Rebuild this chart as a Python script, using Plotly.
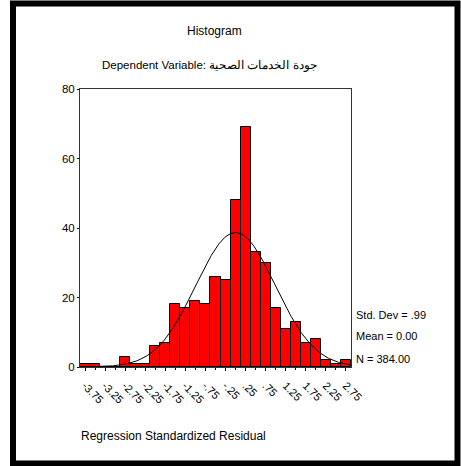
import numpy as np
import plotly.graph_objects as go

# ---- data ----
bin_centers = [-3.75, -3.5, -3.25, -3.0, -2.75, -2.5, -2.25, -2.0, -1.75, -1.5,
               -1.25, -1.0, -0.75, -0.5, -0.25, 0.0, 0.25, 0.5, 0.75, 1.0,
               1.25, 1.5, 1.75, 2.0, 2.25, 2.5, 2.75]
counts = [1, 1, 0, 0, 3, 1, 1, 6, 7, 18,
          17, 19, 18, 26, 25, 48, 69, 33, 30, 17,
          11, 13, 7, 8, 2, 1, 2]
tick_vals = [-3.75, -3.25, -2.75, -2.25, -1.75, -1.25, -0.75, -0.25,
             0.25, 0.75, 1.25, 1.75, 2.25, 2.75]
tick_text = ["-3.75", "-3.25", "-2.75", "-2.25", "-1.75", "-1.25", "-.75", "-.25",
             ".25", ".75", "1.25", "1.75", "2.25", "2.75"]
y_ticks = [0, 20, 40, 60, 80]
std_dev = 0.99
mean = 0.00
n_total = 384
bin_width = 0.25

FONT = "Liberation Sans Narrow, Arial Narrow, Liberation Sans, Arial, sans-serif"

# normal curve from the stated statistics
xc = np.linspace(-3.875, 2.875, 300)
yc = n_total * bin_width / (std_dev * np.sqrt(2 * np.pi)) * np.exp(-0.5 * ((xc - mean) / std_dev) ** 2)

fig = go.Figure()
fig.add_trace(go.Bar(
    x=bin_centers, y=counts, width=bin_width,
    marker=dict(color="#FF0000", line=dict(color="black", width=1)),
    showlegend=False, hoverinfo="x+y"))
fig.add_trace(go.Scatter(
    x=xc, y=yc, mode="lines", line=dict(color="black", width=1),
    showlegend=False, hoverinfo="skip"))

W, H = 461, 466
L, R, T, B = 80, 110, 89, 99
pw, ph = W - L - R, H - T - B

def px(x):
    return (x - L) / pw

def py(y):
    return (H - B - y) / ph

fig.update_layout(
    width=W, height=H,
    margin=dict(l=L, r=R, t=T, b=B),
    paper_bgcolor="white", plot_bgcolor="white",
    bargap=0,
    font=dict(family=FONT, size=12, color="black"),
    xaxis=dict(
        range=[-3.875, 2.875], tickmode="array", tickvals=tick_vals, ticktext=tick_text,
        tickangle=45, ticks="outside", ticklen=3, tickcolor="black",
        ticklabelstandoff=4,
        showline=True, linecolor="#333", linewidth=1, mirror=True,
        showgrid=False, zeroline=False, tickfont=dict(size=11, family=FONT),
        minor=dict(dtick=0.25, tick0=-3.75, ticks="outside", ticklen=2, tickcolor="black"),
    ),
    yaxis=dict(
        range=[0, 80], tickmode="array", tickvals=y_ticks,
        ticks="outside", ticklen=2, tickcolor="black",
        showline=True, linecolor="#333", linewidth=1, mirror=True,
        showgrid=False, zeroline=False, tickfont=dict(size=11.5, family=FONT),
    ),
    annotations=[
        dict(text="Histogram", x=px(214), y=py(31), xref="paper", yref="paper",
             showarrow=False, xanchor="center", yanchor="middle", font=dict(size=12)),
        dict(text="Dependent Variable: جودة الخدمات الصحية", x=px(209), y=py(65),
             xref="paper", yref="paper", showarrow=False, xanchor="center",
             yanchor="middle", font=dict(size=11.5)),
        dict(text="Std. Dev = .99", x=px(354), y=py(315), xref="paper", yref="paper",
             showarrow=False, xanchor="left", yanchor="middle", font=dict(size=11)),
        dict(text="Mean = 0.00", x=px(354), y=py(336), xref="paper", yref="paper",
             showarrow=False, xanchor="left", yanchor="middle", font=dict(size=11)),
        dict(text="N = 384.00", x=px(354), y=py(359), xref="paper", yref="paper",
             showarrow=False, xanchor="left", yanchor="middle", font=dict(size=11)),
        dict(text="Regression Standardized Residual", x=px(79), y=py(436),
             xref="paper", yref="paper", showarrow=False, xanchor="left",
             yanchor="middle", font=dict(size=12)),
    ],
    shapes=[
        dict(type="rect", xref="paper", yref="paper",
             x0=px(13), x1=px(457.5), y0=py(463.5), y1=py(3.5),
             line=dict(color="black", width=6), fillcolor="rgba(0,0,0,0)", layer="above"),
    ],
)

fig.write_html("out.html", config={"displayModeBar": False},
               post_script="document.body.style.margin='0';document.body.style.overflow='hidden';")
